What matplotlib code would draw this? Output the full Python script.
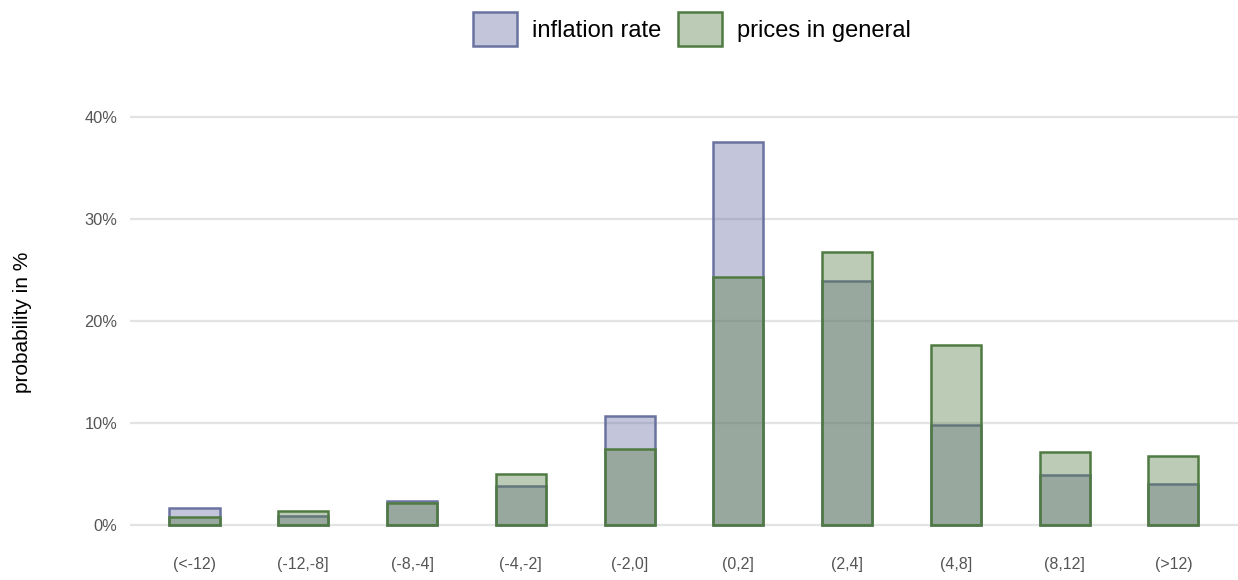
import matplotlib
matplotlib.use("Agg")
import matplotlib.pyplot as plt
import numpy as np

plt.rcParams['font.family'] = ['Liberation Sans', 'DejaVu Sans']

categories = ["(<-12)", "(-12,-8]", "(-8,-4]", "(-4,-2]", "(-2,0]",
              "(0,2]", "(2,4]", "(4,8]", "(8,12]", "(>12)"]
inflation_rate = [1.7, 0.9, 2.4, 3.8, 10.7, 37.6, 23.9, 9.8, 4.9, 4.0]
prices_general = [0.8, 1.4, 2.2, 5.0, 7.5, 24.3, 26.8, 17.7, 7.2, 6.8]

fig = plt.figure(figsize=(12.38, 5.8), dpi=100)
ax = fig.add_axes([0.105, 0.0772, 0.8946, 0.756])

x = np.arange(len(categories))
w = 0.46
blue_face = (105/255, 110/255, 163/255, 0.4)
green_face = (88/255, 125/255, 70/255, 0.4)
ax.bar(x, inflation_rate, width=w, facecolor=blue_face, edgecolor="#6a73a0",
       linewidth=1.8, label="inflation rate", zorder=2)
ax.bar(x, prices_general, width=w, facecolor=green_face, edgecolor="#4f7a41",
       linewidth=1.8, label="prices in general", zorder=3)

ax.set_xlim(-0.593, 9.59)
ax.set_ylim(-1, 42)
ax.set_yticks([0, 10, 20, 30, 40])
ax.set_yticklabels(["0%", "10%", "20%", "30%", "40%"])
ax.set_xticks(x)
ax.set_xticklabels(categories)
ax.tick_params(axis='x', length=0, pad=16, labelsize=11.5, labelcolor="#555555")
ax.tick_params(axis='y', length=0, pad=9, labelsize=11.8, labelcolor="#555555")
ax.grid(axis='y', color="#e3e3e3", linewidth=1.6, zorder=0)
ax.set_axisbelow(True)
for s in ax.spines.values():
    s.set_visible(False)

ax.set_ylabel("probability in %", fontsize=15, color="black", va="center")
ax.yaxis.set_label_coords(-0.0975, 0.486)

fig.legend(loc="center", bbox_to_anchor=(692/1238, 1 - 29/580), ncol=2,
           frameon=False, fontsize=17, handlelength=1.86, handleheight=1.86,
           handletextpad=0.64, columnspacing=0.68)

fig.savefig("out.png", dpi=100)
